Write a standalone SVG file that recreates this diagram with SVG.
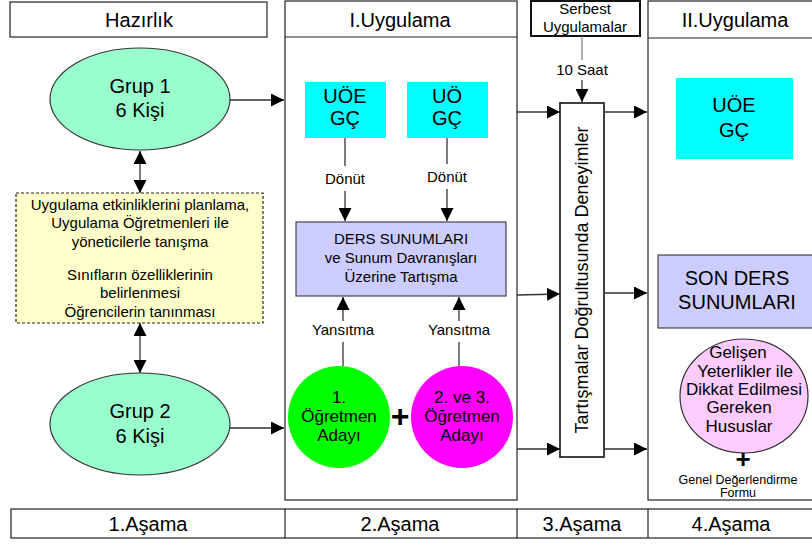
<svg xmlns="http://www.w3.org/2000/svg" width="812" height="545" viewBox="0 0 812 545">
<defs>
<marker id="ah" markerUnits="userSpaceOnUse" markerWidth="13" markerHeight="13" refX="13" refY="6.5" orient="auto-start-reverse" viewBox="0 0 13 13">
<path d="M0,0 L13,6.5 L0,13 z" fill="#000"/>
</marker>
</defs>
<style>
text{font-family:"Liberation Sans",Arial,sans-serif;fill:#000;text-anchor:middle}
.frame{fill:#fff;stroke:#222;stroke-width:1.2}
.hd{font-size:20px}
.con{stroke:#333;stroke-width:1.3;fill:none}
.arr{marker-end:url(#ah)}
.dbl{marker-start:url(#ah);marker-end:url(#ah)}
.ell{fill:#99FFCC;stroke:#333;stroke-width:1.2}
.cyan{fill:#00FFFF}
.lav{fill:#CCCCFF;stroke:#444;stroke-width:1.2}
.t15{font-size:15px}
.t17{font-size:17px}
.t20{font-size:20px}
.plus{font-size:32px;font-weight:bold}
</style>

<!-- Column frames and headers -->
<g id="header-hazirlik">
<rect class="frame" x="10" y="2" width="257" height="35"/>
<text class="hd" x="139" y="27">Hazırlık</text>
</g>
<g id="column-uygulama1">
<rect class="frame" x="285" y="1" width="232" height="499"/>
<line x1="285" y1="37" x2="517" y2="37" stroke="#222" stroke-width="1.2"/>
<text class="hd" x="400" y="27">I.Uygulama</text>
</g>
<g id="column-uygulama2">
<rect class="frame" x="648" y="1" width="170" height="499"/>
<line x1="648" y1="38" x2="812" y2="38" stroke="#222" stroke-width="1.2"/>
<text class="hd" x="735" y="27">II.Uygulama</text>
</g>
<g id="serbest">
<rect x="531" y="1" width="109" height="35" fill="#fff" stroke="#111" stroke-width="2"/>
<text class="t15" x="585" y="14">Serbest</text>
<text class="t15" x="585" y="32">Uygulamalar</text>
</g>
<g id="stages">
<rect class="frame" x="11" y="509" width="810" height="29"/>
<line x1="285" y1="509" x2="285" y2="538" stroke="#222" stroke-width="1.2"/>
<line x1="517" y1="509" x2="517" y2="538" stroke="#222" stroke-width="1.2"/>
<line x1="648" y1="509" x2="648" y2="538" stroke="#222" stroke-width="1.2"/>
<text class="hd" x="148" y="531">1.Aşama</text>
<text class="hd" x="400" y="531">2.Aşama</text>
<text class="hd" x="582" y="531">3.Aşama</text>
<text class="hd" x="731" y="531">4.Aşama</text>
</g>

<!-- Nodes -->
<g id="grup1">
<ellipse class="ell" cx="140" cy="99" rx="90" ry="51"/>
<text class="t20" x="140" y="93">Grup 1</text>
<text class="t20" x="140" y="117">6 Kişi</text>
</g>
<g id="hazirlik-notes">
<rect x="16" y="193" width="247" height="130" fill="#FFFFCC" stroke="#222" stroke-width="1.2" stroke-dasharray="3,2"/>
<text class="t15" x="140" y="210">Uygulama etkinliklerini planlama,</text>
<text class="t15" x="140" y="228">Uygulama Öğretmenleri ile</text>
<text class="t15" x="140" y="247">yöneticilerle tanışma</text>
<text class="t15" x="140" y="280">Sınıfların özelliklerinin</text>
<text class="t15" x="140" y="298">belirlenmesi</text>
<text class="t15" x="140" y="317">Öğrencilerin tanınması</text>
</g>
<g id="grup2">
<ellipse class="ell" cx="140" cy="424" rx="90" ry="51"/>
<text class="t20" x="140" y="418">Grup 2</text>
<text class="t20" x="140" y="443">6 Kişi</text>
</g>

<g id="uoe-gc-1">
<rect class="cyan" x="305" y="82" width="81" height="56"/>
<text class="t20" x="345" y="103">UÖE</text>
<text class="t20" x="345" y="125">GÇ</text>
</g>
<g id="uo-gc-1">
<rect class="cyan" x="407" y="82" width="81" height="56"/>
<text class="t20" x="447" y="103">UÖ</text>
<text class="t20" x="447" y="125">GÇ</text>
</g>
<g id="ders-sunumlari">
<rect class="lav" x="296" y="222" width="210" height="74"/>
<text class="t15" x="401" y="244">DERS SUNUMLARI</text>
<text class="t15" x="401" y="263">ve Sunum Davranışları</text>
<text class="t15" x="401" y="282">Üzerine Tartışma</text>
</g>
<g id="aday1">
<circle cx="339" cy="417" r="51" fill="#00FF00"/>
<text class="t17" x="339" y="403">1.</text>
<text class="t17" x="339" y="422">Öğretmen</text>
<text class="t17" x="339" y="441">Adayı</text>
</g>
<g id="plus1">
<text class="plus" x="400" y="427">+</text>
</g>
<g id="aday23">
<circle cx="462" cy="417" r="51" fill="#FF00FF"/>
<text class="t17" x="462" y="403">2. ve 3.</text>
<text class="t17" x="462" y="422">Öğretmen</text>
<text class="t17" x="462" y="441">Adayı</text>
</g>

<g id="deneyimler">
<rect x="560" y="103" width="44" height="354" fill="#fff" stroke="#111" stroke-width="1.6"/>
<text font-size="18" transform="translate(588,280) rotate(-90)" x="0" y="0">Tartışmalar Doğrultusunda Deneyimler</text>
</g>

<g id="uoe-gc-2">
<rect class="cyan" x="676" y="78" width="117" height="81"/>
<text class="t20" x="734" y="112">UÖE</text>
<text class="t20" x="734" y="137">GÇ</text>
</g>
<g id="son-ders">
<rect class="lav" x="658" y="255" width="160" height="73"/>
<text class="t20" x="737" y="285">SON DERS</text>
<text class="t20" x="737" y="309">SUNUMLARI</text>
</g>
<g id="gelisen">
<ellipse cx="744" cy="396" rx="64" ry="57" fill="#FFCCFF" stroke="#333" stroke-width="1.2"/>
<text class="t17" x="738" y="358">Gelişen</text>
<text class="t17" x="745" y="377">Yeterlikler ile</text>
<text class="t17" x="744" y="395">Dikkat Edilmesi</text>
<text class="t17" x="739" y="413">Gereken</text>
<text class="t17" x="739" y="432">Hususlar</text>
</g>
<g id="plus2">
<text font-size="26" font-weight="bold" x="743" y="468">+</text>
</g>
<g id="form">
<text font-size="12.5" x="738" y="484">Genel Değerlendirme</text>
<text font-size="12.5" x="738" y="497">Formu</text>
</g>

<!-- Connectors -->
<g id="connectors">
<line class="con arr" x1="230" y1="100" x2="284" y2="100"/>
<line class="con arr" x1="230" y1="428" x2="284" y2="428"/>
<line class="con dbl" x1="140" y1="151" x2="140" y2="193"/>
<line class="con dbl" x1="140" y1="323" x2="140" y2="373"/>
<line class="con" x1="345" y1="138" x2="345" y2="166"/>
<text class="t15" x="345" y="184">Dönüt</text>
<line class="con arr" x1="345" y1="191" x2="345" y2="221"/>
<line class="con" x1="447" y1="138" x2="447" y2="164"/>
<text class="t15" x="447" y="182">Dönüt</text>
<line class="con arr" x1="447" y1="189" x2="447" y2="221"/>
<line class="con" x1="343" y1="342" x2="343" y2="366"/>
<text class="t15" x="343" y="335">Yansıtma</text>
<line class="con arr" x1="343" y1="321" x2="343" y2="297"/>
<line class="con" x1="459" y1="342" x2="459" y2="366"/>
<text class="t15" x="459" y="335">Yansıtma</text>
<line class="con arr" x1="459" y1="321" x2="459" y2="297"/>
<line stroke="#888" stroke-width="1.3" x1="582" y1="36" x2="582" y2="60"/>
<text class="t15" x="582" y="75">10 Saat</text>
<line class="con arr" x1="582" y1="80" x2="582" y2="102"/>
<line class="con arr" x1="517" y1="112" x2="560" y2="112"/>
<line class="con arr" x1="517" y1="295" x2="560" y2="294"/>
<line class="con arr" x1="517" y1="449" x2="560" y2="449"/>
<line class="con arr" x1="604" y1="112" x2="647" y2="112"/>
<line class="con arr" x1="604" y1="293" x2="647" y2="293"/>
<line class="con arr" x1="604" y1="449" x2="647" y2="449"/>
</g>
</svg>
